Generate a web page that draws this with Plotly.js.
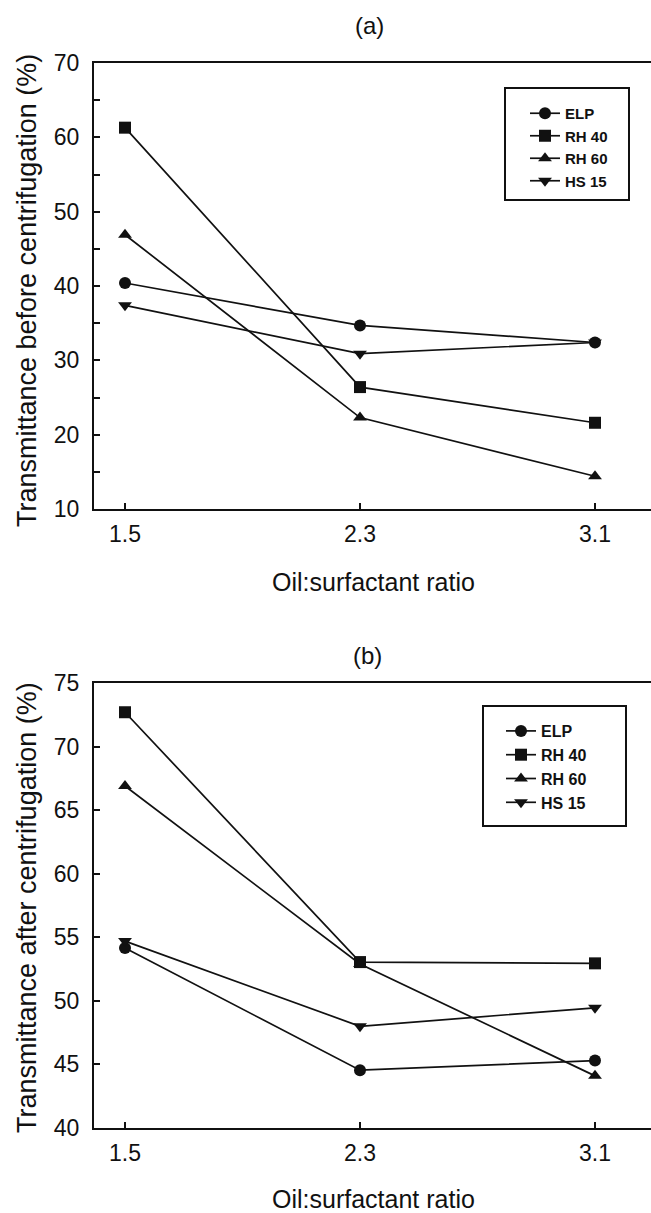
<!DOCTYPE html>
<html>
<head>
<meta charset="utf-8">
<script src="https://cdn.plot.ly/plotly-3.0.1.min.js"></script>
<style>html,body{margin:0;padding:0;background:#fff;}#chart{width:651px;height:1213px;}</style>
</head>
<body>
<div id="chart"></div>
<script>
// ---- data ----
const ratios = [1.5, 2.3, 3.1];
const ratioLabels = ['1.5', '2.3', '3.1'];
const seriesNames = ['ELP', 'RH 40', 'RH 60', 'HS 15'];
const seriesSymbols = ['circle', 'square', 'triangle-up', 'triangle-down'];

// (a) transmittance before centrifugation (%)
const beforeELP  = [40.4, 34.7, 32.4];
const beforeRH40 = [61.3, 26.4, 21.6];
const beforeRH60 = [46.9, 22.3, 14.4];
const beforeHS15 = [37.4, 30.9, 32.4];

// (b) transmittance after centrifugation (%)
const afterELP  = [54.15, 44.55, 45.3];
const afterRH40 = [72.7, 53.05, 52.95];
const afterRH60 = [66.9, 52.9, 44.1];
const afterHS15 = [54.7, 48.0, 49.45];

const yTicksA = [10, 20, 30, 40, 50, 60, 70];
const yTicksB = [40, 45, 50, 55, 60, 65, 70, 75];

// ---- figure ----
const W = 651, H = 1213, L = 94;
const px = v => (v - L) / (W - L);
const py = v => (H - v) / H;
const FONT = '"Liberation Sans", Arial, Helvetica, sans-serif';
const INK = '#111';

const beforeSets = [beforeELP, beforeRH40, beforeRH60, beforeHS15];
const afterSets = [afterELP, afterRH40, afterRH60, afterHS15];

const traces = [];
beforeSets.forEach((ys, i) => traces.push({
  x: ratios, y: ys, name: seriesNames[i], type: 'scatter', mode: 'lines+markers',
  xaxis: 'x', yaxis: 'y', legend: 'legend',
  line: {color: INK, width: 1.7},
  marker: {symbol: seriesSymbols[i], size: 12, color: INK}
}));
afterSets.forEach((ys, i) => traces.push({
  x: ratios, y: ys, name: seriesNames[i], type: 'scatter', mode: 'lines+markers',
  xaxis: 'x2', yaxis: 'y2', legend: 'legend2',
  line: {color: INK, width: 1.7},
  marker: {symbol: seriesSymbols[i], size: 12, color: INK}
}));

const xRange = [1.5 - 31 / 293.75, 3.1 + 56 / 293.75];

function xAxis(anchor) {
  return {
    anchor: anchor, domain: [0, 1], range: xRange, type: 'linear',
    tickvals: ratios, ticktext: ratioLabels,
    ticks: 'inside', ticklen: 6, tickwidth: 2, tickcolor: INK,
    showline: true, linewidth: 2, linecolor: INK, mirror: true,
    showgrid: false, zeroline: false, automargin: false,
    ticklabelstandoff: 3,
    tickfont: {family: FONT, size: 23, color: INK}
  };
}
function yAxis(anchor, dom, range, tv, minor) {
  const a = {
    anchor: anchor, domain: dom, range: range,
    tickvals: tv, ticktext: tv.map(String),
    ticks: 'inside', ticklen: 6, tickwidth: 2, tickcolor: INK,
    showline: true, linewidth: 2, linecolor: INK, mirror: false,
    showgrid: false, zeroline: false, automargin: false,
    ticklabelstandoff: 8,
    tickfont: {family: FONT, size: 23, color: INK}
  };
  if (minor) a.minor = {dtick: 5, tick0: 0, ticks: 'inside', ticklen: 6, tickwidth: 2, tickcolor: INK, showgrid: false};
  return a;
}

const ann = (text, x, y, size, angle) => ({
  text: text, xref: 'paper', yref: 'paper', x: x, y: y,
  xanchor: 'center', yanchor: 'middle', showarrow: false,
  textangle: angle || 0, font: {family: FONT, size: size, color: INK}
});

const layout = {
  width: W, height: H,
  margin: {l: L, r: 0, t: 0, b: 0, pad: 0},
  paper_bgcolor: '#fff', plot_bgcolor: '#fff',
  font: {family: FONT, color: INK},
  xaxis: xAxis('y'),
  yaxis: yAxis('x', [py(509), py(63)], [10, 70], yTicksA, true),
  xaxis2: xAxis('y2'),
  yaxis2: yAxis('x2', [py(1128), py(683)], [40, 75], yTicksB, false),
  legend: {
    x: px(525), y: py(97), xanchor: 'left', yanchor: 'top',
    bgcolor: 'rgba(0,0,0,0)', borderwidth: 0,
    font: {family: FONT, size: 15, color: INK, weight: 'bold'},
    tracegroupgap: 0
  },
  legend2: {
    x: px(501), y: py(714), xanchor: 'left', yanchor: 'top',
    bgcolor: 'rgba(0,0,0,0)', borderwidth: 0,
    font: {family: FONT, size: 16, color: INK, weight: 'bold'},
    tracegroupgap: 0
  },
  shapes: [
    {type: 'rect', xref: 'paper', yref: 'paper', x0: px(505), x1: px(629), y0: py(200), y1: py(88), line: {color: INK, width: 2}},
    {type: 'rect', xref: 'paper', yref: 'paper', x0: px(483), x1: px(626), y0: py(826), y1: py(706), line: {color: INK, width: 2}}
  ],
  annotations: [
    ann('(a)', px(369), py(25), 24),
    ann('(b)', px(367), py(655), 24),
    ann('Oil:surfactant ratio', px(373), py(582), 25),
    ann('Oil:surfactant ratio', px(373), py(1199), 25),
    ann('Transmittance before centrifugation (%)', px(27), py(291), 27, -90),
    ann('Transmittance after centrifugation (%)', px(27), py(908), 27, -90)
  ],
  showlegend: true
};

Plotly.newPlot('chart', traces, layout, {staticPlot: true, displayModeBar: false});
</script>
</body>
</html>
